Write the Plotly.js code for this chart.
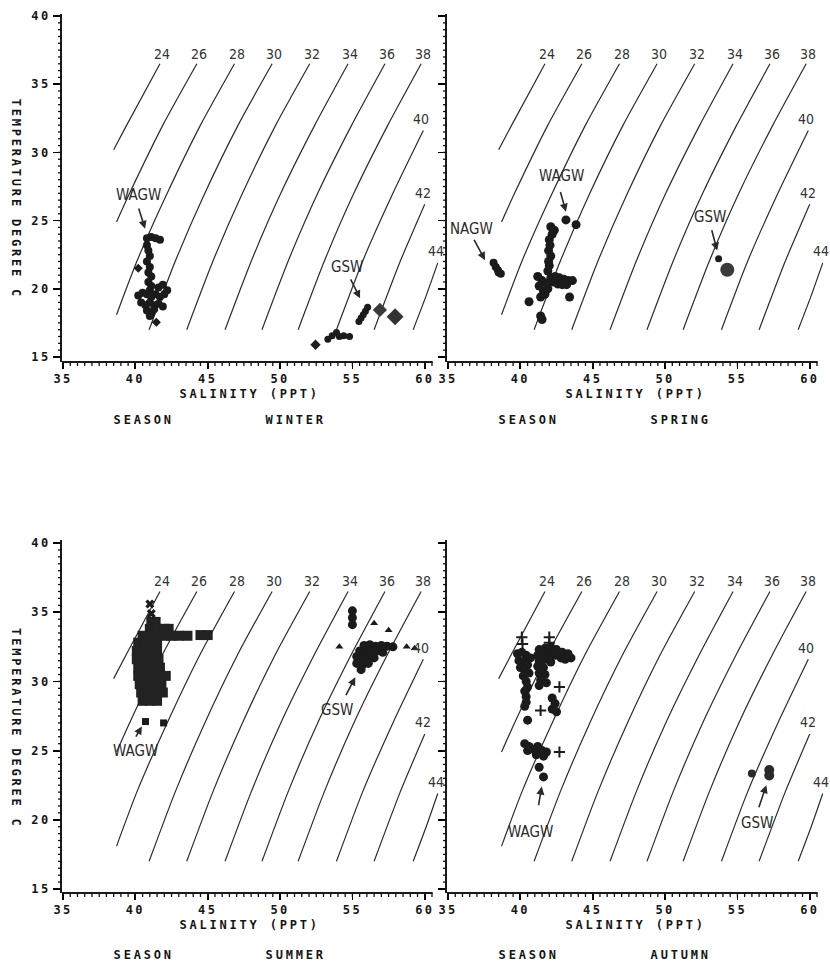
<!DOCTYPE html>
<html>
<head>
<meta charset="utf-8">
<script src="https://cdn.plot.ly/plotly-3.0.1.min.js"></script>
<style>
html, body { margin: 0; padding: 0; background: #ffffff; }
#chart { width: 830px; height: 967px; }
g[class$="tick"] > text { letter-spacing: 2.4px; }
</style>
</head>
<body>
<div id="chart"></div>
<script>
// ---------- isopycnal (sigma-t) lines ----------
const sigmaLabels = ['24', '26', '28', '30', '32', '34', '36', '38', '40', '42', '44'];
const s24 = [38.5, 39.4, 41.7],                t24 = [30.2, 32.0, 36.5];
const s26 = [38.7, 39.6, 41.9, 44.25],         t26 = [24.9, 27.0, 32.0, 36.5];
const s28 = [38.7, 40.1, 42.2, 44.5, 46.85],   t28 = [18.1, 22.0, 27.0, 32.0, 36.5];
const s30 = [40.95, 42.75, 44.8, 47.1, 49.45], t30 = [17.0, 22.0, 27.0, 32.0, 36.5];
const s32 = [43.55, 45.35, 47.4, 49.7, 52.05], t32 = [17.0, 22.0, 27.0, 32.0, 36.5];
const s34 = [46.2, 48.0, 50.05, 52.4, 54.7],   t34 = [17.0, 22.0, 27.0, 32.0, 36.5];
const s36 = [48.75, 50.55, 52.6, 54.95, 57.25],t36 = [17.0, 22.0, 27.0, 32.0, 36.5];
const s38 = [51.25, 53.05, 55.1, 57.45, 59.75],t38 = [17.0, 22.0, 27.0, 32.0, 36.5];
const s40 = [53.9, 55.7, 57.8, 59.9],          t40 = [17.0, 22.0, 27.0, 31.6];
const s42 = [56.5, 58.3, 60.0],                t42 = [17.0, 22.0, 26.2];
const s44 = [59.2, 60.1, 60.9],                t44 = [17.0, 19.5, 21.9];
const isoS = [s24, s26, s28, s30, s32, s34, s36, s38, s40, s42, s44];
const isoT = [t24, t26, t28, t30, t32, t34, t36, t38, t40, t42, t44];

// ---------- axis ticks ----------
const xTickVals = [35, 40, 45, 50, 55, 60];
const yTickVals = [15, 20, 25, 30, 35, 40];
const minorStep = 0.5;
const seasons = ['WINTER', 'SPRING', 'SUMMER', 'AUTUMN'];

// ---------- WINTER ----------
const winterWagwS = [40.8,41.1,41.4,41.7, 40.8,40.9,41.0,40.8,41.0,40.9,41.1,40.9,41.1,41.0, 41.6,41.9,42.2,
  40.2,40.5,40.8,41.1,41.4,41.7,42.0, 40.4,40.7,41.0,41.3,41.6,41.9, 40.8,41.1,41.3, 41.0];
const winterWagwT = [23.7,23.8,23.7,23.6, 23.2,22.8,22.4,22.0,21.6,21.2,20.9,20.5,20.2,19.9, 20.1,20.3,19.9,
  19.5,19.7,19.6,19.4,19.6,19.4,19.6, 19.0,18.8,19.0,18.8,18.9,18.7, 18.4,18.2,18.5, 18.0];
const winterOddS = [40.2, 41.45];
const winterOddT = [21.5, 17.55];
const winterGswS = [53.3,53.6,53.9,54.1,54.4,54.8, 55.45,55.6,55.75,55.9,56.05];
const winterGswT = [16.3,16.55,16.8,16.5,16.55,16.5, 17.6,17.85,18.1,18.35,18.65];
const winterDiaS = [52.45, 56.9, 57.95];
const winterDiaT = [15.9, 18.45, 17.95];

// ---------- SPRING ----------
const springNagwS = [38.15, 38.3, 38.45, 38.65, 38.5];
const springNagwT = [21.9, 21.6, 21.35, 21.1, 21.2];
const springWagwS = [43.15,43.85, 42.1,42.35,42.2,42.0,42.05,41.95,42.1,41.95,42.0,41.9,
  41.2,41.5,41.3,41.6,41.4,41.7,41.9,41.8,42.1,42.4,42.7,43.0,43.3,43.6,42.6,42.9,43.2,42.3,
  40.6,43.4, 41.4,41.5];
const springWagwT = [25.05,24.7, 24.55,24.3,24.0,23.6,23.2,22.8,22.4,22.0,21.7,21.3,
  20.9,20.6,20.2,19.8,19.4,19.6,20.0,20.4,20.8,20.9,20.8,20.7,20.6,20.6,20.35,20.3,20.3,20.5,
  19.05,19.4, 18.0,17.75];
const springGswS = [53.7, 54.3];
const springGswT = [22.2, 21.4];

// ---------- SUMMER ----------
const summerWagwS = [41.1,41.4, 41.0,41.5,42.0,42.3, 40.5,41.0,41.5,42.0,42.5,43.0,43.6,
  44.5,45.0,
  40.2,40.7,41.2,41.5, 40.1,40.6,41.1,41.5, 40.1,40.6,41.1,41.6, 40.2,40.7,41.2,41.7,
  40.2,40.7,41.2,41.7,42.1, 40.3,40.8,41.3,41.8, 40.4,40.9,41.4,41.9, 40.5,41.0,41.5];
const summerWagwT = [34.3,34.3, 33.8,33.8,33.8,33.8, 33.3,33.3,33.3,33.3,33.3,33.3,33.3,
  33.35,33.35,
  32.8,32.8,32.8,32.8, 32.2,32.2,32.2,32.2, 31.6,31.6,31.6,31.6, 31.0,31.0,31.0,31.0,
  30.4,30.4,30.4,30.4,30.4, 29.8,29.8,29.8,29.8, 29.2,29.2,29.2,29.2, 28.6,28.6,28.6];
const summerTopS = [41.0, 41.1];
const summerTopT = [35.6, 34.9];
const summerLowS = [40.7, 41.95];
const summerLowT = [27.1, 27.0];
const summerGswS = [55.0,55.0,55.0, 55.8,56.2,56.6,57.0,57.4,57.8, 55.5,55.9,56.3,56.7,57.1,
  55.3,55.7,56.1,56.5, 55.3,55.7,56.1, 55.6];
const summerGswT = [35.1,34.6,34.1, 32.6,32.65,32.55,32.6,32.55,32.5, 32.2,32.15,32.1,32.2,32.1,
  31.8,31.7,31.75,31.7, 31.3,31.2,31.3, 30.85];
const summerTriS = [56.5, 57.5, 54.1, 58.75, 59.3];
const summerTriT = [34.2, 33.7, 32.5, 32.5, 32.4];

// ---------- AUTUMN ----------
const autumnWagwS = [39.8,40.1,40.4,40.7, 39.9,40.2,40.5, 40.0,40.3,40.6, 40.2,40.4,40.5,40.3,40.4,40.4,40.3,
  41.3,41.7,42.1,42.5,42.9,43.3,43.5, 41.2,41.6,42.0,42.4,42.8,43.1, 41.3,41.7,42.1, 41.2,41.6,
  41.3,41.7,41.4,41.8,41.3, 42.2,42.4,42.2,42.5, 40.5,
  40.3,40.6,40.9,41.2,41.5,41.8,40.5,41.1,41.6, 41.3,41.6];
const autumnWagwT = [32.0,32.1,31.9,31.7, 31.5,31.4,31.2, 31.0,30.8,30.6, 30.4,30.0,29.6,29.3,28.9,28.5,28.2,
  32.3,32.4,32.5,32.3,32.1,32.0,31.7, 31.9,32.0,32.0,31.9,31.7,31.6, 31.5,31.6,31.4, 31.1,31.0,
  30.6,30.5,30.1,29.9,29.7, 28.8,28.4,28.0,27.8, 27.2,
  25.5,25.3,25.1,25.3,25.0,24.9,25.0,24.7,24.6, 23.8,23.1];
const autumnPlusS = [40.1, 40.15, 42.0, 42.0, 42.7, 41.4, 42.7];
const autumnPlusT = [33.2, 32.7, 33.2, 32.8, 29.6, 27.9, 24.9];
const autumnGswS = [56.0, 57.2, 57.2];
const autumnGswT = [23.35, 23.6, 23.2];

// ---------- layout geometry ----------
const xr = [34.93, 60.95];
const panels = [
  {n: '',  xd: [62 / 830, 438.5 / 830],  yd: [1 - 362 / 967, 1 - 14 / 967],  yr: [14.63, 40.15], ylab: true},
  {n: '2', xd: [447 / 830, 823.5 / 830], yd: [1 - 362 / 967, 1 - 14 / 967],  yr: [14.63, 40.15], ylab: false},
  {n: '3', xd: [62 / 830, 438.5 / 830],  yd: [1 - 893 / 967, 1 - 540 / 967], yr: [14.71, 40.22], ylab: true},
  {n: '4', xd: [447 / 830, 823.5 / 830], yd: [1 - 893 / 967, 1 - 540 / 967], yr: [14.71, 40.22], ylab: false}
];

const INK = '#1b1b1b';
const monoFont = {family: '"DejaVu Sans Mono", "Liberation Mono", monospace', size: 12, color: '#151515', weight: 'bold'};
const handFont = {family: '"Liberation Sans Narrow", "DejaVu Sans Condensed", "Roboto Condensed", sans-serif', size: 14, color: '#333333'};
const tagFont = {family: '"Liberation Sans Narrow", "DejaVu Sans Condensed", "Roboto Condensed", sans-serif', size: 15, color: '#2a2a2a'};

const traces = [];
const annotations = [];
const shapes = [];
const layout = {
  width: 830, height: 967,
  margin: {l: 0, r: 0, t: 0, b: 0},
  paper_bgcolor: '#ffffff', plot_bgcolor: '#ffffff',
  showlegend: false
};

panels.forEach((p, i) => {
  const xa = 'x' + p.n, ya = 'y' + p.n;
  layout['xaxis' + p.n] = {
    domain: p.xd, range: xr, anchor: ya, fixedrange: true,
    showline: false, zeroline: false, showgrid: false,
    tickmode: 'linear', tick0: xTickVals[0], dtick: xTickVals[1] - xTickVals[0],
    ticks: 'outside', ticklen: 6, tickwidth: 1.8, tickcolor: '#000',
    tickfont: monoFont
  };
  layout['yaxis' + p.n] = {
    domain: p.yd, range: p.yr, anchor: xa, fixedrange: true,
    showline: true, linecolor: INK, linewidth: 2, zeroline: false, showgrid: false,
    tickmode: 'linear', tick0: yTickVals[0], dtick: yTickVals[1] - yTickVals[0],
    showticklabels: p.ylab,
    ticks: 'outside', ticklen: 7, tickwidth: 1.8, tickcolor: '#000',
    tickfont: monoFont
  };

  // x axis line, ending just past 60 like the original
  shapes.push({type: 'line', xref: xa + ' domain', yref: ya + ' domain',
    x0: 0, x1: (60.55 - xr[0]) / (xr[1] - xr[0]), y0: 0, y1: 0,
    line: {color: INK, width: 2}});

  // half-unit small ticks along both axes (placed by the axes, sized in pixels)
  for (let v = xTickVals[0]; v <= xTickVals[xTickVals.length - 1] + minorStep + 1e-9; v += minorStep) {
    shapes.push({type: 'line', xref: xa, x0: v, x1: v,
      yref: ya + ' domain', ysizemode: 'pixel', yanchor: 0, y0: 0, y1: -4,
      line: {color: '#111', width: 1.3}});
  }
  for (let v = yTickVals[0]; v <= yTickVals[yTickVals.length - 1] + 1e-9; v += minorStep) {
    shapes.push({type: 'line', yref: ya, y0: v, y1: v,
      xref: xa + ' domain', xsizemode: 'pixel', xanchor: 0, x0: 0, x1: -4,
      line: {color: '#111', width: 1.3}});
  }

  // isopycnals
  isoS.forEach((s, k) => {
    const t = isoT[k];
    traces.push({type: 'scatter', mode: 'lines', x: s, y: t, xaxis: xa, yaxis: ya,
      line: {color: '#2b2b2b', width: 1.2, shape: 'spline', smoothing: 0.6}, hoverinfo: 'skip'});
    const eS = s[s.length - 1], eT = t[t.length - 1];
    const top = eT > 36;
    annotations.push({xref: xa, yref: ya, x: top ? eS + 0.15 : eS - 0.15, y: eT + (top ? 0.75 : 0.85),
      text: sigmaLabels[k], showarrow: false, font: handFont, xanchor: 'center', yanchor: 'middle'});
  });

  // axis titles and season captions
  const titleY = i < 2 ? 1 - 394 / 967 : 1 - 925 / 967;
  const seasonY = i < 2 ? 1 - 420 / 967 : 1 - 955 / 967;
  annotations.push({xref: 'paper', yref: 'paper', x: p.xd[0] + (250 - 62) / 830, y: titleY,
    text: 'SALINITY (PPT)', showarrow: false, font: monoFont, xanchor: 'center', yanchor: 'middle'});
  annotations.push({xref: 'paper', yref: 'paper', x: p.xd[0] + (143 - 62) / 830, y: seasonY,
    text: 'SEASON', showarrow: false, font: monoFont, xanchor: 'center', yanchor: 'middle'});
  annotations.push({xref: 'paper', yref: 'paper', x: p.xd[0] + (296 - 62) / 830, y: seasonY,
    text: seasons[i], showarrow: false, font: monoFont, xanchor: 'center', yanchor: 'middle'});
  if (p.ylab) {
    annotations.push({xref: 'paper', yref: 'paper', x: 16 / 830, y: (p.yd[0] + p.yd[1]) / 2 + (i < 2 ? -0.011 : -0.012),
      text: 'TEMPERATURE DEGREE C', textangle: 90, showarrow: false, font: monoFont, xanchor: 'center', yanchor: 'middle'});
  }
});

function pts(xs, ys, n, marker) {
  const m = Object.assign({opacity: 1, line: {width: 0}}, marker);
  traces.push({type: 'scatter', mode: 'markers', x: xs, y: ys, xaxis: 'x' + n, yaxis: 'y' + n,
    marker: m, hoverinfo: 'skip', cliponaxis: false});
}
function tag(n, text, tx, ty) {
  annotations.push({xref: 'x' + n, yref: 'y' + n, x: tx, y: ty, text: text, showarrow: false,
    font: tagFont, xanchor: 'center', yanchor: 'middle'});
}
function arrow(n, x0, y0, x1, y1) {
  annotations.push({xref: 'x' + n, yref: 'y' + n, axref: 'x' + n, ayref: 'y' + n,
    ax: x0, ay: y0, x: x1, y: y1, text: '', showarrow: true,
    arrowhead: 2, arrowsize: 1, arrowwidth: 1.6, arrowcolor: '#2a2a2a', standoff: 0, startstandoff: 0});
}

// winter
pts(winterWagwS, winterWagwT, '', {symbol: 'circle', size: 8, color: INK});
pts(winterOddS, winterOddT, '', {symbol: 'diamond', size: 7, color: INK});
pts(winterGswS, winterGswT, '', {symbol: 'circle', size: 7, color: INK});
pts(winterDiaS, winterDiaT, '', {symbol: 'diamond', size: [8, 11, 13], color: ['#1e1e1e', '#3a3a3a', '#333']});
tag('', 'WAGW', 40.25, 26.9); arrow('', 40.2, 26.0, 40.67, 24.4);
tag('', 'GSW', 54.6, 21.6);   arrow('', 54.83, 20.8, 55.53, 19.3);

// spring
pts(springNagwS, springNagwT, '2', {symbol: 'circle', size: 8, color: INK});
pts(springWagwS, springWagwT, '2', {symbol: 'circle', size: 9, color: INK});
pts(springGswS, springGswT, '2', {symbol: 'circle', size: [7, 14], color: ['#1e1e1e', '#3a3a3a']});
tag('2', 'NAGW', 36.64, 24.4); arrow('2', 36.75, 23.7, 37.56, 22.1);
tag('2', 'WAGW', 42.86, 28.3); arrow('2', 42.74, 27.2, 43.15, 25.65);
tag('2', 'GSW', 53.1, 25.3);   arrow('2', 53.2, 24.4, 53.6, 22.8);

// summer
pts(summerWagwS, summerWagwT, '3', {symbol: 'square', size: 10, color: '#222'});
pts(summerTopS, summerTopT, '3', {symbol: 'x', size: 8, color: INK});
pts(summerLowS, summerLowT, '3', {symbol: 'square', size: 7, color: INK});
pts(summerGswS, summerGswT, '3', {symbol: 'circle', size: 9, color: INK});
pts(summerTriS, summerTriT, '3', {symbol: 'triangle-up', size: 7, color: INK});
tag('3', 'WAGW', 39.98, 25.0); arrow('3', 39.98, 25.9, 40.45, 26.75);
tag('3', 'GSW', 53.94, 27.9);  arrow('3', 54.5, 28.9, 55.2, 30.3);

// autumn
pts(autumnWagwS, autumnWagwT, '4', {symbol: 'circle', size: 9, color: INK});
pts(autumnPlusS, autumnPlusT, '4', {symbol: 'cross-thin-open', size: 8, color: INK, line: {width: 2, color: INK}});
pts(autumnGswS, autumnGswT, '4', {symbol: 'circle', size: [8, 10, 10], color: '#2a2a2a'});
tag('4', 'WAGW', 40.67, 19.1); arrow('4', 41.24, 20.95, 41.48, 22.4);
tag('4', 'GSW', 56.33, 19.75); arrow('4', 56.45, 20.8, 57.0, 22.5);

layout.annotations = annotations;
layout.shapes = shapes;

Plotly.newPlot('chart', traces, layout, {staticPlot: true, displayModeBar: false}).then(() => {
  document.querySelectorAll('.annotation-text').forEach(el => {
    const t = el.textContent;
    if (/^(SALINITY|SEASON|WINTER|SPRING|SUMMER|AUTUMN|TEMPERATURE)/.test(t)) {
      el.style.letterSpacing = '2.8px';
    }
  });
});
</script>
</body>
</html>
